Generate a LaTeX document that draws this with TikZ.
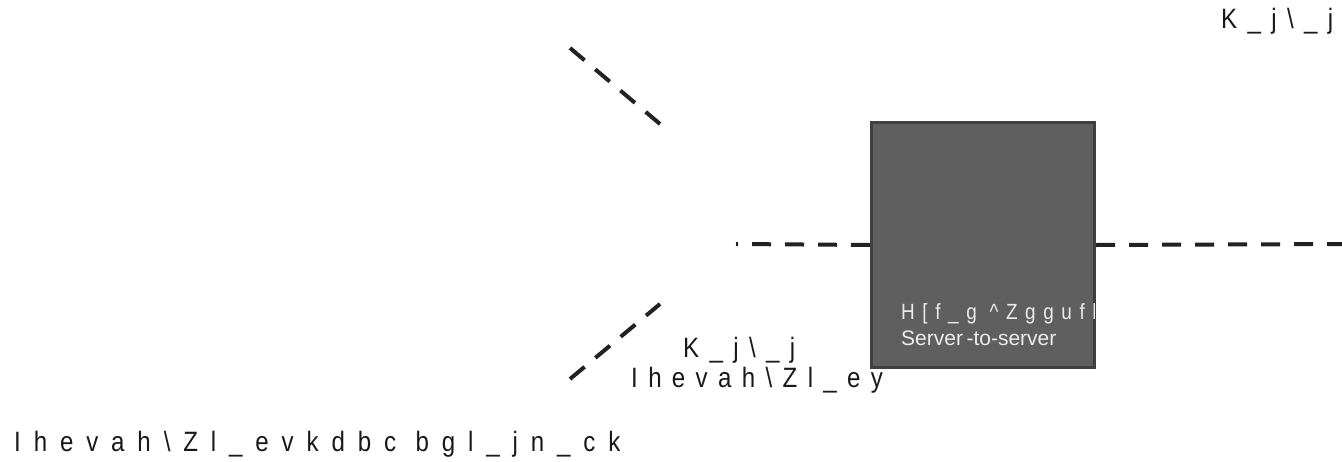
\documentclass[tikz,border=0pt]{standalone}
\usepackage{fontspec}
\setmainfont{Liberation Sans}
\newfontfamily\wide[LetterSpace=37,FakeStretch=0.86]{Liberation Sans}
\newfontfamily\wider[LetterSpace=46,FakeStretch=0.86]{Liberation Sans}
\newfontfamily\boxwide[LetterSpace=34.5,FakeStretch=0.86]{Liberation Sans}
\usetikzlibrary{positioning}
\definecolor{boxgray}{HTML}{5F5F5F}
\definecolor{rimgray}{HTML}{404040}
\definecolor{linkgray}{HTML}{222222}

\begin{document}
\begin{tikzpicture}[x=1pt, y=-1pt,
  link/.style={draw=linkgray, line width=4pt, dash pattern=on 19pt off 14pt},
  biglabel/.style={font=\wide\fontsize{28}{32}\selectfont, text=black!90, inner sep=0pt},
  inlabel/.style={font=\fontsize{21}{24}\selectfont, text=white!92!black, inner sep=0pt},
  serverbox/.style={draw=rimgray, fill=boxgray, line width=3pt, minimum width=223pt,
   minimum height=245pt, inner sep=0pt}]
 \useasboundingbox (0,0) rectangle (1342,461);

 % link ends
 \coordinate (inleft) at (736,244);
 \coordinate (outright) at (1342,244);
 \coordinate (upa) at (570,48);
 \coordinate (upb) at (660,124);
 \coordinate (lowa) at (570,379);
 \coordinate (lowb) at (660,304);

 % server box
 \node[serverbox] (s2s) at (983,245) {};
 \draw[link] (s2s.west) -- (inleft);
 \draw[link] (s2s.east) -- (outright);
 \draw[link] (upa) -- (upb);
 \draw[link] (lowa) -- (lowb);
 \node[serverbox] at (s2s) {};

 % text in box
 \begin{scope}
  \clip ([shift={(1.5,-1.5)}]s2s.south west) rectangle ([shift={(-1.5,1.5)}]s2s.north east);
  \node[inlabel, font=\boxwide\fontsize{22}{24}\selectfont, anchor=base west] (boxname) at (901,319) {H[f\_g \textasciicircum Zggufb};
 \end{scope}
 \node[inlabel, anchor=base west] (boxsub) at (901,345) {Server\,-to-server};

 % labels
 \node[biglabel, anchor=base west] (topname) at (1221,28) {K\_j\textbackslash\_j};
 \node[biglabel, anchor=base west] (lowname) at (683,357) {K\_j\textbackslash\_j};
 \node[biglabel, anchor=base west] (lowsub) at ([shift={(-52,30)}]lowname.base west) {Ihevah\textbackslash Zl\_ey};
 \node[biglabel, font=\wider\fontsize{28}{32}\selectfont, anchor=base west] (bottomname) at (14,451) {Ihevah\textbackslash Zl\_evkdbc bgl\_jn\_ck};
\end{tikzpicture}
\end{document}
